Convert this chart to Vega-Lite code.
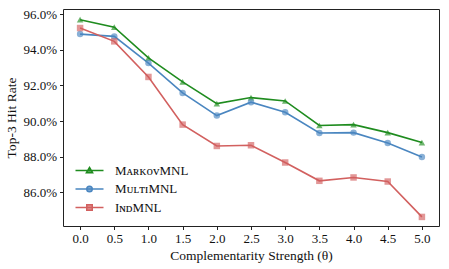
{
  "$schema": "https://vega.github.io/schema/vega-lite/v6.json",
  "width": 376,
  "height": 217,
  "autosize": {"type": "none"},
  "padding": {"left": 63, "top": 9, "right": 10, "bottom": 43},
  "config": {
    "font": "Liberation Serif",
    "view": {"stroke": "#222", "strokeWidth": 1},
    "axis": {"labelFont": "Liberation Serif", "titleFont": "Liberation Serif", "labelFontSize": 13, "titleFontSize": 13.5, "titleFontWeight": "normal", "labelColor": "#111", "titleColor": "#111", "tickColor": "#222", "domain": false, "grid": false, "tickSize": 3.5}
  },
  "data": {"values": [
    {"theta": 0.0, "model": "MarkovMNL", "rate": 95.70},
    {"theta": 0.5, "model": "MarkovMNL", "rate": 95.28},
    {"theta": 1.0, "model": "MarkovMNL", "rate": 93.55},
    {"theta": 1.5, "model": "MarkovMNL", "rate": 92.20},
    {"theta": 2.0, "model": "MarkovMNL", "rate": 90.98},
    {"theta": 2.5, "model": "MarkovMNL", "rate": 91.32},
    {"theta": 3.0, "model": "MarkovMNL", "rate": 91.13},
    {"theta": 3.5, "model": "MarkovMNL", "rate": 89.75},
    {"theta": 4.0, "model": "MarkovMNL", "rate": 89.80},
    {"theta": 4.5, "model": "MarkovMNL", "rate": 89.35},
    {"theta": 5.0, "model": "MarkovMNL", "rate": 88.79},
    {"theta": 0.0, "model": "MultiMNL", "rate": 94.89},
    {"theta": 0.5, "model": "MultiMNL", "rate": 94.76},
    {"theta": 1.0, "model": "MultiMNL", "rate": 93.26},
    {"theta": 1.5, "model": "MultiMNL", "rate": 91.58},
    {"theta": 2.0, "model": "MultiMNL", "rate": 90.31},
    {"theta": 2.5, "model": "MultiMNL", "rate": 91.06},
    {"theta": 3.0, "model": "MultiMNL", "rate": 90.49},
    {"theta": 3.5, "model": "MultiMNL", "rate": 89.33},
    {"theta": 4.0, "model": "MultiMNL", "rate": 89.35},
    {"theta": 4.5, "model": "MultiMNL", "rate": 88.77},
    {"theta": 5.0, "model": "MultiMNL", "rate": 87.98},
    {"theta": 0.0, "model": "IndMNL", "rate": 95.23},
    {"theta": 0.5, "model": "IndMNL", "rate": 94.48},
    {"theta": 1.0, "model": "IndMNL", "rate": 92.48},
    {"theta": 1.5, "model": "IndMNL", "rate": 89.80},
    {"theta": 2.0, "model": "IndMNL", "rate": 88.60},
    {"theta": 2.5, "model": "IndMNL", "rate": 88.64},
    {"theta": 3.0, "model": "IndMNL", "rate": 87.67},
    {"theta": 3.5, "model": "IndMNL", "rate": 86.64},
    {"theta": 4.0, "model": "IndMNL", "rate": 86.83},
    {"theta": 4.5, "model": "IndMNL", "rate": 86.60},
    {"theta": 5.0, "model": "IndMNL", "rate": 84.61}
  ]},
  "encoding": {
    "x": {"field": "theta", "type": "quantitative", "scale": {"domain": [-0.25, 5.25], "nice": false, "zero": false},
      "axis": {"values": [0, 0.5, 1, 1.5, 2, 2.5, 3, 3.5, 4, 4.5, 5], "format": ".1f", "title": "Complementarity Strength (θ)", "titlePadding": 3, "labelPadding": 3}},
    "y": {"field": "rate", "type": "quantitative", "scale": {"domain": [84.1, 96.3], "nice": false, "zero": false},
      "axis": {"values": [86, 88, 90, 92, 94, 96], "labelExpr": "format(datum.value, '.1f') + '%'", "title": "Top-3 Hit Rate", "titlePadding": 4, "labelPadding": 3}}
  },
  "layer": [
    {
      "mark": {"type": "line", "strokeWidth": 1.6},
      "encoding": {
        "color": {"field": "model", "type": "nominal", "scale": {"domain": ["MarkovMNL", "MultiMNL", "IndMNL"], "range": ["#1f8c1f", "#4a86c0", "#d2605f"]},
          "legend": {
            "orient": "none", "legendX": 20, "legendY": 155, "title": null, "padding": 0,
            "labelExpr": "datum.value == 'MarkovMNL' ? 'MᴀʀᴋᴏᴠMNL' : datum.value == 'MultiMNL' ? 'MᴜʟᴛɪMNL' : 'IɴᴅMNL'",
            "labelFont": "Liberation Serif", "labelFontSize": 13, "labelColor": "#111", "labelOffset": 19,
            "symbolSize": 100, "rowPadding": 4.5, "symbolStrokeWidth": 1.5,
            "encode": {"symbols": {"update": {
              "shape": {"signal": "datum.value == 'MarkovMNL' ? 'M-2.8,0H2.8M0,-0.6L0.62,0.45L-0.62,0.45Z' : datum.value == 'MultiMNL' ? 'M-2.8,0H2.8M0.55,0A0.55,0.55,0,1,1,-0.55,0A0.55,0.55,0,1,1,0.55,0Z' : 'M-2.8,0H2.8M-0.55,-0.55H0.55V0.55H-0.55Z'"},
              "fill": {"signal": "scale('color', datum.value)"},
              "fillOpacity": {"value": 0.7},
              "stroke": {"signal": "scale('color', datum.value)"},
              "strokeWidth": {"value": 1.5},
              "opacity": {"value": 1}
            }}}
          }}
      }
    },
    {
      "mark": {"type": "point", "filled": true, "size": 42, "opacity": 0.65},
      "encoding": {
        "color": {"field": "model", "type": "nominal", "scale": {"domain": ["MarkovMNL", "MultiMNL", "IndMNL"], "range": ["#1f8c1f", "#4a86c0", "#d2605f"]}, "legend": null},
        "shape": {"field": "model", "type": "nominal", "scale": {"domain": ["MarkovMNL", "MultiMNL", "IndMNL"], "range": ["triangle-up", "circle", "square"]}, "legend": null}
      }
    }
  ],
  "resolve": {"legend": {"color": "independent", "shape": "independent"}}
}
